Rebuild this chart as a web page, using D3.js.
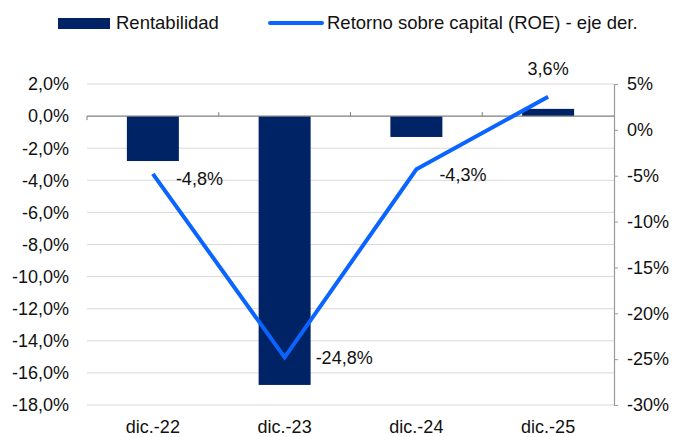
<!DOCTYPE html>
<html><head><meta charset="utf-8">
<script src="https://cdn.jsdelivr.net/npm/d3@7"></script>
<style>
html,body{margin:0;padding:0;background:#fff;}
svg text{font-family:"Liberation Sans",Arial,sans-serif;fill:#111;}
</style></head>
<body><svg id="c" width="676" height="437"></svg>
<script>
const categories = ["dic.-22","dic.-23","dic.-24","dic.-25"];
const rentabilidad = [-2.8, -16.75, -1.3, 0.45];
const roe = [-4.8, -24.8, -4.3, 3.6];
const roeLabels = ["-4,8%","-24,8%","-4,3%","3,6%"];
const leftTicks = [2,0,-2,-4,-6,-8,-10,-12,-14,-16,-18];
const rightTicks = [5,0,-5,-10,-15,-20,-25,-30];

const svg = d3.select("#c");
const L = 87, R = 614, T = 84, B = 405;
const FS = "18px";
const x = d3.scaleBand().domain(categories).range([L,R]).paddingInner(0).paddingOuter(0);
const yL = d3.scaleLinear().domain([-18,2]).range([B,T]);
const yR = d3.scaleLinear().domain([-30,5]).range([B,T]);
const fmtL = d => d3.format(".1f")(d).replace("−","-").replace(".",",") + "%";

// gridlines
svg.append("g").selectAll("line").data(leftTicks.filter(d=>d!==0)).join("line")
  .attr("x1",L).attr("x2",R).attr("y1",d=>yL(d)).attr("y2",d=>yL(d))
  .attr("stroke","#d9d9d9").attr("stroke-width",1);

// left tick labels
svg.append("g").selectAll("text").data(leftTicks).join("text")
  .attr("x",69).attr("y",d=>yL(d)).attr("dy","0.35em").attr("text-anchor","end")
  .style("font-size",FS).text(fmtL);

// right axis
const gR = svg.append("g").attr("transform",`translate(${R},0)`)
  .call(d3.axisRight(yR).tickValues(rightTicks).tickSize(4).tickFormat(d=>d+"%"));
gR.select(".domain").attr("stroke","#999").attr("stroke-width",1.2);
gR.selectAll(".tick line").attr("stroke","#999");
gR.selectAll(".tick text").attr("x",13).style("font-size",FS)
  .style("font-family","'Liberation Sans',Arial,sans-serif").attr("fill","#111");

// bars
svg.append("g").selectAll("rect").data(categories).join("rect")
  .attr("x",d=>x(d)+x.bandwidth()/2-26).attr("width",52)
  .attr("y",(d,i)=>Math.min(yL(0),yL(rentabilidad[i])))
  .attr("height",(d,i)=>Math.abs(yL(rentabilidad[i])-yL(0)))
  .attr("fill","#002366");

// zero line
svg.append("line").attr("x1",L).attr("x2",R).attr("y1",yL(0)).attr("y2",yL(0))
  .attr("stroke","#7f7f7f").attr("stroke-width",1.2);
svg.append("g").selectAll("line").data(categories.slice(1).concat(["_L"])).join("line")
  .attr("x1",d=>d==="_L"?L:x(d)).attr("x2",d=>d==="_L"?L:x(d))
  .attr("y1",d=>d==="_L"?yL(0):yL(0)-4).attr("y2",d=>d==="_L"?yL(0)+4:yL(0))
  .attr("stroke","#7f7f7f").attr("stroke-width",1);

// line
const line = d3.line().x((d,i)=>x(categories[i])+x.bandwidth()/2).y(d=>yR(d));
svg.append("path").datum(roe).attr("d",line).attr("fill","none")
  .attr("stroke","#0A64FF").attr("stroke-width",4).attr("stroke-linejoin","miter");

// labels
const lblPos = [[23,5],[31,0],[23,5],[0,-28]];
svg.append("g").selectAll("text").data(roe).join("text")
  .attr("x",(d,i)=>x(categories[i])+x.bandwidth()/2+lblPos[i][0])
  .attr("y",(d,i)=>yR(d)+lblPos[i][1]).attr("dy","0.35em")
  .attr("text-anchor",(d,i)=>i===3?"middle":"start")
  .style("font-size",FS).text((d,i)=>roeLabels[i]);

// category labels
svg.append("g").selectAll("text").data(categories).join("text")
  .attr("x",d=>x(d)+x.bandwidth()/2).attr("y",433).attr("text-anchor","middle")
  .style("font-size",FS).text(d=>d);

// legend
svg.append("rect").attr("x",58).attr("y",18).attr("width",52).attr("height",11).attr("fill","#002366");
svg.append("text").attr("x",116).attr("y",29).style("font-size","18.5px").text("Rentabilidad");
svg.append("line").attr("x1",270).attr("x2",322).attr("y1",23).attr("y2",23)
  .attr("stroke","#0A64FF").attr("stroke-width",4).attr("stroke-linecap","round");
svg.append("text").attr("x",327).attr("y",29).style("font-size","18.5px").text("Retorno sobre capital (ROE) - eje der.");
</script></body></html>
